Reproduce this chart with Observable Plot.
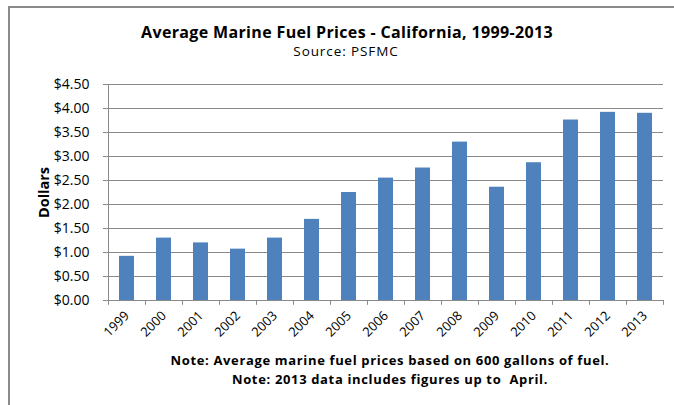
<!DOCTYPE html>
<html>
<head>
<meta charset="utf-8">
<script src="https://cdn.jsdelivr.net/npm/d3@7"></script>
<script src="https://cdn.jsdelivr.net/npm/@observablehq/plot@0.6"></script>
<style>
  html, body { margin: 0; padding: 0; background: #fff; }
  body { width: 674px; height: 405px; position: relative; overflow: hidden; font-family: "Open Sans", sans-serif; color: #000; }
  #frame { position: absolute; left: 8px; top: 6px; width: 700px; height: 450px; border-left: 2px solid #8a8a8a; border-top: 2px solid #8a8a8a; }
  #chart { position: absolute; left: 0; top: 0; }
  .t { position: absolute; white-space: nowrap; transform: translateX(-50%); line-height: 1; }
  #title { left: 347px; top: 24px; font-size: 16px; font-weight: bold; letter-spacing: 0.35px; }
  #subtitle { left: 346px; top: 45px; font-size: 13.5px; letter-spacing: 0.9px; }
  #note1 { left: 390px; top: 353.5px; font-size: 13px; font-weight: bold; letter-spacing: 0.65px; }
  #note2 { left: 390px; top: 372.5px; font-size: 13px; font-weight: bold; letter-spacing: 0.65px; }
</style>
</head>
<body>
<div id="frame"></div>
<div id="chart"></div>
<div class="t" id="title">Average Marine Fuel Prices - California, 1999-2013</div>
<div class="t" id="subtitle">Source: PSFMC</div>
<div class="t" id="note1">Note: Average marine fuel prices based on 600 gallons of fuel.</div>
<div class="t" id="note2">Note: 2013 data includes figures up to&nbsp; April.</div>
<script>
const years = ["1999","2000","2001","2002","2003","2004","2005","2006","2007","2008","2009","2010","2011","2012","2013"];
const prices = [0.92, 1.30, 1.20, 1.07, 1.30, 1.69, 2.25, 2.55, 2.76, 3.30, 2.36, 2.87, 3.76, 3.92, 3.90];
const yTicks = [0, 0.5, 1, 1.5, 2, 2.5, 3, 3.5, 4, 4.5];
const yLabel = "Dollars";

const data = years.map((y, i) => ({year: y, price: prices[i]}));

const W = 674, H = 405, ML = 108, MR = 11, MT = 84, MB = 105;
const half = (W - ML - MR) / years.length / 2;

const chart = Plot.plot({
  width: W,
  height: H,
  marginLeft: ML,
  marginRight: MR,
  marginTop: MT,
  marginBottom: MB,
  style: {fontFamily: "'Open Sans', sans-serif", color: "#000", background: "transparent"},
  x: {domain: years, paddingInner: 0.6, paddingOuter: 0.3, label: null},
  y: {domain: [0, 4.5], label: null},
  marks: [
    Plot.gridY(yTicks, {stroke: "#8a8a8a", strokeOpacity: 1, strokeWidth: 1}),
    Plot.barY(data, {x: "year", y: "price", fill: "#4f81bd"}),
    Plot.ruleY([0], {stroke: "#8a8a8a"}),
    Plot.ruleX([years[0]], {dx: -half, y1: 0, y2: 4.5, stroke: "#8a8a8a"}),
    Plot.ruleX(years, {x: d => d, dx: -half, y1: 0, y2: -0.1, stroke: "#8a8a8a"}),
    Plot.ruleX([years[years.length - 1]], {dx: half, y1: 0, y2: -0.1, stroke: "#8a8a8a"}),
    Plot.axisY({ticks: yTicks, tickFormat: d3.format("$.2f"), tickSize: 5, stroke: "#8a8a8a", tickPadding: 14, fontSize: 14, label: null}),
    Plot.axisX({tickSize: 0, tickRotate: -45, tickPadding: 13, fontSize: 13, label: null}),
    Plot.text([yLabel], {frameAnchor: "left", textAnchor: "middle", dx: -64, rotate: -90, fontWeight: "bold", fontSize: 14.5})
  ]
});
document.getElementById("chart").appendChild(chart);
</script>
</body>
</html>
